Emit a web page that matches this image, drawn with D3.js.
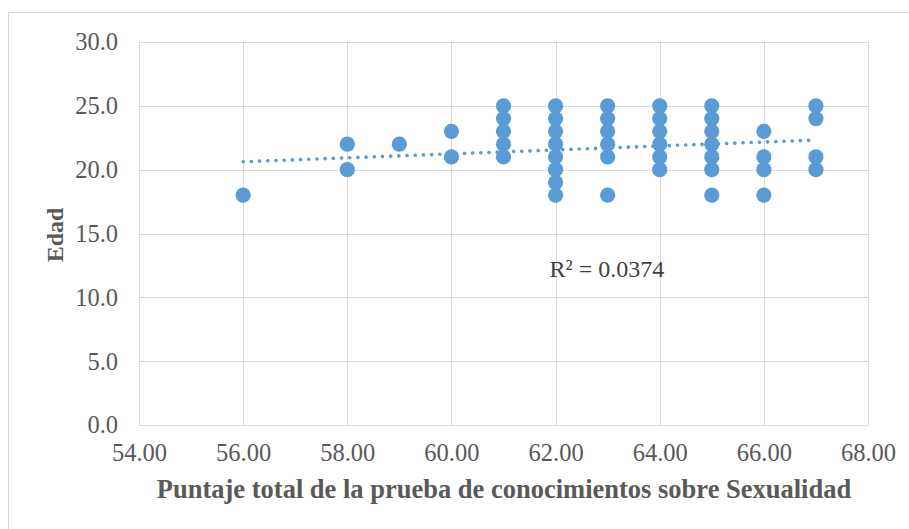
<!DOCTYPE html>
<html>
<head>
<meta charset="utf-8">
<script src="https://cdn.jsdelivr.net/npm/d3@7"></script>
<style>
  body { margin: 0; background: #fff; }
  svg { display: block; }
</style>
</head>
<body>
<svg id="chart" width="909" height="529"></svg>
<script>
// Puntaje (x) / Edad (y) points
const puntaje = [
    56,
    58, 58,
    59,
    60, 60,
    61, 61, 61, 61, 61,
    62, 62, 62, 62, 62, 62, 62, 62,
    63, 63, 63, 63, 63, 63,
    64, 64, 64, 64, 64, 64,
    65, 65, 65, 65, 65, 65, 65,
    66, 66, 66, 66,
    67, 67, 67, 67
];
const edad = [
    18,
    22, 20,
    22,
    23, 21,
    25, 24, 23, 22, 21,
    25, 24, 23, 22, 21, 20, 19, 18,
    25, 24, 23, 22, 21, 18,
    25, 24, 23, 22, 21, 20,
    25, 24, 23, 22, 21, 20, 18,
    23, 21, 20, 18,
    25, 24, 21, 20
];
const trendX = [56, 67];
const trendY = [20.62, 22.32];
const xTicks = [54, 56, 58, 60, 62, 64, 66, 68];
const yTicks = [0, 5, 10, 15, 20, 25, 30];
const r2Label = "R² = 0.0374";

let margin = {top: 42, right: 41, bottom: 104, left: 139};
let width = 909 - margin.left - margin.right;
let height = 529 - margin.top - margin.bottom;
let serif = "'Liberation Serif', 'Times New Roman', serif";

let svg = d3.select("#chart");

// outer chart border (left + top visible)
svg.append("path")
    .attr("d", "M8.5,529 L8.5,12.5 L909,12.5")
    .attr("fill", "none")
    .attr("stroke", "#d9d9d9")
    .attr("stroke-width", 1);

let g = svg.append("g")
    .attr("transform", `translate(${margin.left}, ${margin.top})`);

let x = d3.scaleLinear().domain([54, 68]).range([0, width]);
let y = d3.scaleLinear().domain([0, 30]).range([height, 0]);

// gridlines
g.append("g").selectAll("line")
    .data(yTicks)
    .enter().append("line")
    .attr("x1", 0)
    .attr("x2", width)
    .attr("y1", d => Math.round(y(d)) + 0.5)
    .attr("y2", d => Math.round(y(d)) + 0.5)
    .attr("stroke", "#d9d9d9");
g.append("g").selectAll("line")
    .data(xTicks)
    .enter().append("line")
    .attr("y1", 0)
    .attr("y2", height)
    .attr("x1", d => Math.round(x(d)) + 0.5)
    .attr("x2", d => Math.round(x(d)) + 0.5)
    .attr("stroke", "#d9d9d9");

// axes (labels only)
let xAxis = g.append("g")
    .attr("transform", `translate(0, ${height})`)
    .call(d3.axisBottom(x).tickValues(xTicks).tickSize(0).tickPadding(19).tickFormat(d3.format(".2f")));
let yAxis = g.append("g")
    .call(d3.axisLeft(y).tickValues(yTicks).tickSize(0).tickPadding(21).tickFormat(d3.format(".1f")));

[xAxis, yAxis].forEach(a => {
    a.select(".domain").remove();
    a.selectAll("text")
        .attr("font-family", serif)
        .attr("font-size", "24.5px")
        .attr("fill", "#595959");
});
xAxis.selectAll("text").attr("dy", "0.71em");

// points
let data = puntaje.map((p, i) => ({x: p, y: edad[i]}));
g.append("g").selectAll("circle")
    .data(data)
    .enter().append("circle")
    .attr("cx", d => x(d.x))
    .attr("cy", d => y(d.y))
    .attr("r", 7.6)
    .attr("fill", "#5b9bd5");

// dotted trend line
g.append("path")
    .datum(trendX.map((t, i) => [t, trendY[i]]))
    .attr("d", d3.line().x(d => x(d[0])).y(d => y(d[1])))
    .attr("fill", "none")
    .attr("stroke", "#5b9bd5")
    .attr("stroke-width", 3.6)
    .attr("stroke-linecap", "round")
    .attr("stroke-dasharray", "0.1 8.1");

// R² label
g.append("text")
    .attr("x", x(62))
    .attr("y", y(11.6))
    .attr("font-family", serif)
    .attr("font-size", "24px")
    .attr("fill", "#404040")
    .attr("dx", -6)
    .text(r2Label);

// axis titles
svg.append("text")
    .attr("x", 504)
    .attr("y", 498)
    .attr("text-anchor", "middle")
    .attr("font-family", serif)
    .attr("font-weight", "bold")
    .attr("font-size", "26.5px")
    .attr("fill", "#595959")
    .text("Puntaje total de la prueba de conocimientos sobre Sexualidad");

svg.append("text")
    .attr("transform", `translate(63, ${235}) rotate(-90)`)
    .attr("text-anchor", "middle")
    .attr("font-family", serif)
    .attr("font-weight", "bold")
    .attr("font-size", "24px")
    .attr("fill", "#595959")
    .text("Edad");
</script>
</body>
</html>
